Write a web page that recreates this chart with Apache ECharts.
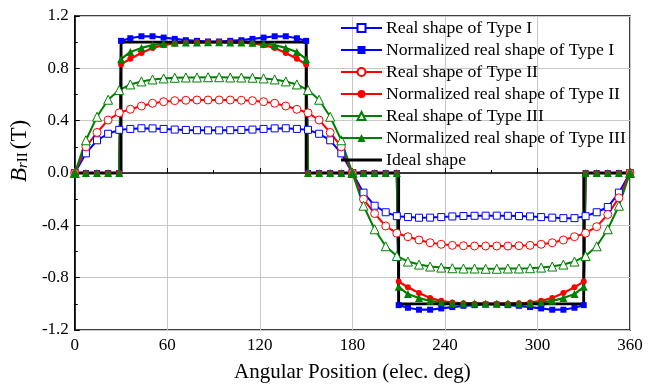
<!DOCTYPE html>
<html>
<head>
<meta charset="utf-8">
<script src="https://cdn.jsdelivr.net/npm/echarts@6/dist/echarts.min.js"></script>
<style>html,body{margin:0;padding:0;background:#fff}#c{width:657px;height:388px}</style>
</head>
<body>
<div id="c"></div>
<script>
// Angles for the real shapes (elec. deg)
const ANGLES = [0,7.2,14.4,21.6,28.8,36,43.2,50.4,57.6,64.8,72,79.2,86.4,93.6,100.8,108,115.2,122.4,129.6,136.8,144,151.2,158.4,165.6,172.8,180,
  187.2,194.4,201.6,208.8,216,223.2,230.4,237.6,244.8,252,259.2,266.4,273.6,280.8,288,295.2,302.4,309.6,316.8,324,331.2,338.4,345.6,352.8,360];

const REAL_I = [0,0.15,0.25,0.30,0.33,0.337,0.342,0.341,0.337,0.332,0.329,0.327,0.326,0.326,0.327,0.329,0.332,0.337,0.341,0.342,0.337,0.33,0.30,0.25,0.15,0,
  -0.15,-0.25,-0.30,-0.33,-0.337,-0.342,-0.341,-0.337,-0.332,-0.329,-0.327,-0.326,-0.326,-0.327,-0.329,-0.332,-0.337,-0.341,-0.345,-0.345,-0.33,-0.30,-0.26,-0.15,0];
const REAL_II = [0,0.20,0.31,0.405,0.46,0.487,0.512,0.533,0.545,0.553,0.556,0.558,0.558,0.558,0.558,0.556,0.553,0.545,0.533,0.512,0.487,0.46,0.405,0.31,0.20,0,
  -0.20,-0.31,-0.405,-0.46,-0.487,-0.512,-0.533,-0.545,-0.553,-0.556,-0.558,-0.558,-0.558,-0.558,-0.556,-0.553,-0.545,-0.533,-0.512,-0.487,-0.46,-0.41,-0.317,-0.19,0];
const REAL_III = [0,0.25,0.43,0.56,0.634,0.677,0.70,0.715,0.723,0.728,0.73,0.73,0.732,0.732,0.73,0.73,0.728,0.723,0.715,0.70,0.677,0.634,0.56,0.43,0.25,0,
  -0.25,-0.43,-0.56,-0.634,-0.677,-0.70,-0.715,-0.723,-0.728,-0.73,-0.73,-0.732,-0.732,-0.73,-0.73,-0.728,-0.723,-0.715,-0.70,-0.677,-0.634,-0.56,-0.43,-0.25,0];

// Angles for the normalized shapes (with the 30/150/210/330 edges)
const NORM_ANGLES = [0,7.2,14.4,21.6,28.8,30,36,43.2,50.4,57.6,64.8,72,79.2,86.4,93.6,100.8,108,115.2,122.4,129.6,136.8,144,150,
  151.2,158.4,165.6,172.8,180,187.2,194.4,201.6,208.8,210,216,223.2,230.4,237.6,244.8,252,259.2,266.4,273.6,280.8,288,295.2,302.4,309.6,316.8,324,330,
  331.2,338.4,345.6,352.8,360];
const NORM_I = [0,0,0,0,0,1.01,1.03,1.045,1.045,1.035,1.025,1.015,1.01,1.005,1.005,1.01,1.015,1.025,1.035,1.045,1.045,1.03,1.01,
  0,0,0,0,0,0,0,0,0,-1.01,-1.03,-1.045,-1.045,-1.035,-1.025,-1.015,-1.01,-1.005,-1.005,-1.01,-1.015,-1.025,-1.035,-1.045,-1.045,-1.03,-1.01,
  0,0,0,0,0];
const NORM_II = [0,0,0,0,0,0.83,0.873,0.917,0.955,0.977,0.99,0.996,1.0,1.0,1.0,1.0,0.996,0.99,0.977,0.955,0.917,0.873,0.83,
  0,0,0,0,0,0,0,0,0,-0.83,-0.873,-0.917,-0.955,-0.977,-0.99,-0.996,-1.0,-1.0,-1.0,-1.0,-0.996,-0.99,-0.977,-0.955,-0.917,-0.873,-0.83,
  0,0,0,0,0];
const NORM_III = [0,0,0,0,0,0.87,0.925,0.956,0.977,0.988,0.995,0.997,0.997,1.0,1.0,0.997,0.997,0.995,0.988,0.977,0.956,0.925,0.87,
  0,0,0,0,0,0,0,0,0,-0.87,-0.925,-0.956,-0.977,-0.988,-0.995,-0.997,-0.997,-1.0,-1.0,-0.997,-0.997,-0.995,-0.988,-0.977,-0.956,-0.925,-0.87,
  0,0,0,0,0];

const IDEAL_X = [0,30,30,150,150,210,210,330,330,360];
const IDEAL_Y = [0,0,1,1,0,0,-1,-1,0,0];

const X_TICKS = [0,60,120,180,240,300,360];
const Y_TICKS = [-1.2,-0.8,-0.4,0.0,0.4,0.8,1.2];

const NAMES = ['Real shape of Type I','Normalized real shape of Type I','Real shape of Type II',
  'Normalized real shape of Type II','Real shape of Type III','Normalized real shape of Type III','Ideal shape'];

const zip = (xs, ys) => xs.map((x, i) => [x, ys[i]]);
const FONT = '"Liberation Serif","Times New Roman",serif';
const BLUE = '#0000ff', RED = '#ff0000', GREEN = '#008000';

function realSeries(name, ys, color, symbol, size) {
  return {
    name, type: 'line', data: zip(ANGLES, ys), symbol, symbolSize: size,
    lineStyle: { color, width: 2 },
    itemStyle: { color: '#ffffff', borderColor: color, borderWidth: 1 },
    emphasis: { disabled: true }
  };
}
function normSeries(name, ys, color, symbol, size) {
  return {
    name, type: 'line', data: zip(NORM_ANGLES, ys), symbol, symbolSize: size,
    lineStyle: { color, width: 2.2 },
    itemStyle: { color, borderColor: color, borderWidth: 0 },
    emphasis: { disabled: true }
  };
}

const chart = echarts.init(document.getElementById('c'), null, { renderer: 'canvas' });
chart.setOption({
  animation: false,
  backgroundColor: '#ffffff',
  textStyle: { fontFamily: FONT },
  grid: { left: 72.5, right: 27, top: 16, bottom: 56.5, show: true, borderColor: '#000', borderWidth: 1.5, backgroundColor: 'transparent' },
  legend: {
    orient: 'vertical', left: 340, top: 19, padding: 0, itemWidth: 41, itemHeight: 10, itemGap: 4,
    data: NAMES.map(n => n === 'Ideal shape' ? { name: n, icon: 'path://M0,0L41,0L41,3L0,3Z' } : n),
    textStyle: { fontFamily: FONT, fontSize: 17.7, color: '#000', lineHeight: 18, padding: [0, 0, 0, -1] },
    selectedMode: false
  },
  xAxis: {
    type: 'value', min: 0, max: 360, interval: 60,
    name: 'Angular Position (elec. deg)', nameLocation: 'middle', nameGap: 32,
    nameTextStyle: { fontFamily: FONT, fontSize: 21, color: '#000' },
    axisLine: { lineStyle: { color: '#000', width: 1.5 } },
    axisTick: { inside: true, length: 5, lineStyle: { color: '#000' } },
    minorTick: { show: true, splitNumber: 2, length: 3, lineStyle: { color: '#000' } },
    axisLabel: { fontFamily: FONT, fontSize: 17, color: '#000', margin: 7,
      formatter: v => X_TICKS.includes(v) ? String(v) : '' },
    splitLine: { show: true, lineStyle: { color: '#c8c8c8', width: 1 } }
  },
  yAxis: {
    type: 'value', min: -1.2, max: 1.2, interval: 0.4,
    name: '{b|B}{r|r}{s|II} {n|(T)}', nameLocation: 'middle', nameGap: 31, nameRotate: 90,
    nameTextStyle: { fontFamily: FONT, color: '#000', padding: [0, 0, 0, 44],
      rich: {
        b: { fontFamily: FONT, fontSize: 23, fontStyle: 'italic', color: '#000' },
        r: { fontFamily: FONT, fontSize: 15, fontStyle: 'italic', color: '#000', padding: [7, 0, 0, 0] },
        s: { fontFamily: FONT, fontSize: 15, color: '#000', padding: [7, 0, 0, 0] },
        n: { fontFamily: FONT, fontSize: 23, color: '#000' }
      } },
    axisLine: { lineStyle: { color: '#000', width: 1.5 } },
    axisTick: { inside: true, length: 5, lineStyle: { color: '#000' } },
    minorTick: { show: true, splitNumber: 2, length: 3, lineStyle: { color: '#000' } },
    axisLabel: { fontFamily: FONT, fontSize: 17, color: '#000', margin: 6,
      formatter: v => { const t = Y_TICKS.find(k => Math.abs(k - v) < 1e-6); return t === undefined ? '' : t.toFixed(1); } },
    splitLine: { show: true, lineStyle: { color: '#c8c8c8', width: 1 } }
  },
  series: [
    realSeries(NAMES[0], REAL_I, BLUE, 'rect', 7),
    normSeries(NAMES[1], NORM_I, BLUE, 'rect', 6),
    realSeries(NAMES[2], REAL_II, RED, 'circle', 8),
    normSeries(NAMES[3], NORM_II, RED, 'circle', 6),
    realSeries(NAMES[4], REAL_III, GREEN, 'triangle', 9),
    normSeries(NAMES[5], NORM_III, GREEN, 'triangle', 8),
    {
      name: NAMES[6], type: 'line', data: zip(IDEAL_X, IDEAL_Y), symbol: 'none', showSymbol: false,
      lineStyle: { color: '#000', width: 2.8 }, itemStyle: { color: '#000' }, emphasis: { disabled: true }
    }
  ]
});
</script>
</body>
</html>
